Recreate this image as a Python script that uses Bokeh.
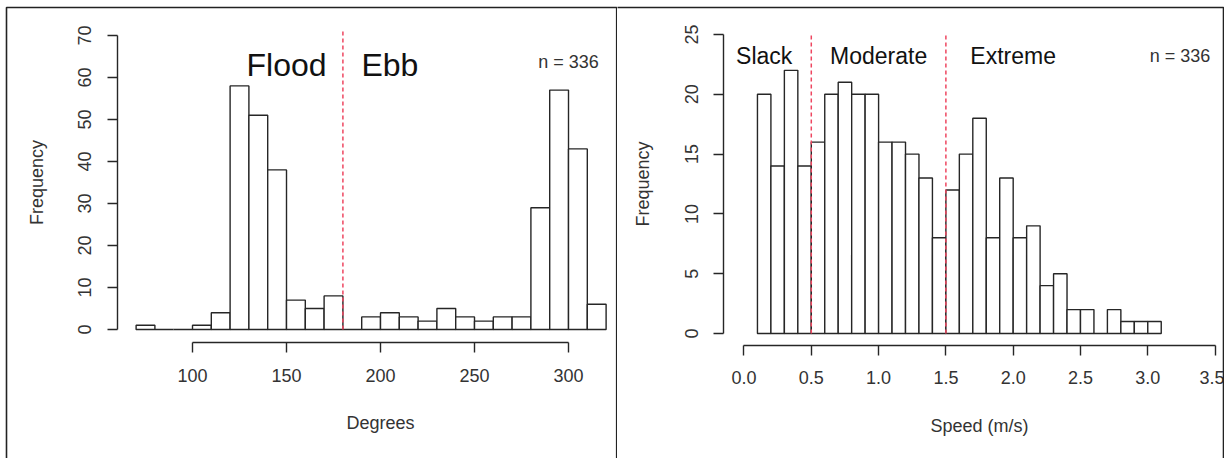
from bokeh.plotting import figure
from bokeh.layouts import row
from bokeh.models import FixedTicker, PrintfTickFormatter, BoxAnnotation, Range1d, ColumnDataSource
from bokeh.core.properties import value
from bokeh.embed import file_html
from bokeh.resources import INLINE

# ---------------- data ----------------
direction_edges = [70, 80, 90, 100, 110, 120, 130, 140, 150, 160, 170, 180, 190,
                   200, 210, 220, 230, 240, 250, 260, 270, 280, 290, 300, 310, 320]
direction_counts = [1, 0, 0, 1, 4, 58, 51, 38, 7, 5, 8, 0, 3,
                    4, 3, 2, 5, 3, 2, 3, 3, 29, 57, 43, 6]
direction_ticks = [100, 150, 200, 250, 300]
direction_freq_ticks = [0, 10, 20, 30, 40, 50, 60, 70]
direction_splits = [180]
direction_labels = ["Flood", "Ebb"]
direction_label_x = [150, 205]

speed_edges = [0.1, 0.2, 0.3, 0.4, 0.5, 0.6, 0.7, 0.8, 0.9, 1.0, 1.1, 1.2, 1.3, 1.4, 1.5, 1.6,
               1.7, 1.8, 1.9, 2.0, 2.1, 2.2, 2.3, 2.4, 2.5, 2.6, 2.7, 2.8, 2.9, 3.0, 3.1]
speed_counts = [20, 14, 22, 14, 16, 20, 21, 20, 20, 16, 16, 15, 13, 8, 12,
                15, 18, 8, 13, 8, 9, 4, 5, 2, 2, 0, 2, 1, 1, 1]
speed_ticks = [0.0, 0.5, 1.0, 1.5, 2.0, 2.5, 3.0, 3.5]
speed_freq_ticks = [0, 5, 10, 15, 20, 25]
speed_splits = [0.5, 1.5]
speed_labels = ["Slack", "Moderate", "Extreme"]
speed_label_x = [0.15, 1.0, 2.0]

n_label = "n = 336"

FONT = "Liberation Sans"
INK = "#262626"
RED = "#ee4660"


def make_panel(width, xr, yr, edges, counts, xticks, yticks, xbounds, ybounds,
               xaxis_at, yaxis_at, xlabel, xfmt=None):
    p = figure(width=width, height=458, x_range=Range1d(*xr), y_range=Range1d(*yr),
               output_backend="svg", toolbar_location=None,
               min_border_left=0, min_border_right=0, min_border_top=0, min_border_bottom=0)
    p.background_fill_color = "white"
    p.border_fill_color = "white"
    p.outline_line_color = None
    p.xgrid.grid_line_color = None
    p.ygrid.grid_line_color = None

    src = ColumnDataSource(dict(left=edges[:-1], right=edges[1:], top=counts,
                                bottom=[0] * len(counts)))
    p.quad(left="left", right="right", top="top", bottom="bottom", source=src,
           fill_color="white", line_color=INK, line_width=1.4)

    for ax in (p.xaxis[0], p.yaxis[0]):
        ax.axis_line_color = INK
        ax.axis_line_width = 1.4
        ax.major_tick_line_color = INK
        ax.major_tick_line_width = 1.4
        ax.major_tick_out = 10
        ax.major_tick_in = 0
        ax.minor_tick_line_color = None
        ax.major_label_text_font = FONT
        ax.major_label_text_font_size = "18px"
        ax.major_label_text_color = "#333333"
        ax.axis_label_text_font = FONT
        ax.axis_label_text_font_size = "18px"
        ax.axis_label_text_font_style = "normal"
        ax.axis_label_text_color = "#333333"

    xa = p.xaxis[0]
    xa.ticker = FixedTicker(ticks=xticks)
    xa.bounds = xbounds
    xa.fixed_location = xaxis_at
    xa.axis_label = xlabel
    xa.major_label_standoff = 16
    xa.axis_label_standoff = 28
    if xfmt:
        xa.formatter = PrintfTickFormatter(format=xfmt)

    ya = p.yaxis[0]
    ya.ticker = FixedTicker(ticks=yticks)
    ya.bounds = ybounds
    ya.fixed_location = yaxis_at
    ya.axis_label = "Frequency"
    ya.major_label_orientation = "vertical"
    ya.major_label_standoff = 16
    ya.axis_label_standoff = 29
    return p


def panel_border(left, right):
    return BoxAnnotation(left=left, right=right, top=451, bottom=-50,
                         left_units="screen", right_units="screen",
                         top_units="screen", bottom_units="screen",
                         fill_color=None, fill_alpha=0, line_color="#222222",
                         line_alpha=1.0, line_width=1.6)


# ---------------- left panel: direction ----------------
p1 = make_panel(617, (-2.13, 326.06), (-30.71, 78.33), direction_edges, direction_counts,
                direction_ticks, direction_freq_ticks, (100, 300), (0, 70),
                -3.1, 60, "Degrees")
p1.segment(x0=direction_splits, y0=[0] * len(direction_splits), x1=direction_splits,
           y1=[71] * len(direction_splits), line_color=RED, line_width=1.5, line_dash="4 3")
p1.text(x=direction_label_x, y=[62.9] * 2, text=direction_labels, text_align="center",
        text_baseline="alphabetic", text_font=value(FONT), text_font_size="32px",
        text_color="#111111")
p1.text(x=[300], y=[63.8], text=[n_label], text_align="center", text_baseline="alphabetic",
        text_font=value(FONT), text_font_size="18px", text_color="#333333")
p1.add_layout(panel_border(6, 616.2))

# ---------------- right panel: speed ----------------
p2 = make_panel(607, (-0.9398, 3.570), (-10.45, 27.84), speed_edges, speed_counts,
                speed_ticks, speed_freq_ticks, (0, 3.5), (0, 25),
                -1.0, -0.15, "Speed (m/s)", xfmt="%.1f")
p2.segment(x0=speed_splits, y0=[0] * len(speed_splits), x1=speed_splits,
           y1=[25.1] * len(speed_splits), line_color=RED, line_width=1.5, line_dash="4 3")
p2.text(x=speed_label_x, y=[23.24] * 3, text=speed_labels, text_align="center",
        text_baseline="alphabetic", text_font=value(FONT), text_font_size="23px",
        text_color="#111111")
p2.text(x=[3.24], y=[23.24], text=[n_label], text_align="center", text_baseline="alphabetic",
        text_font=value(FONT), text_font_size="18px", text_color="#333333")
p2.add_layout(panel_border(-10, 606))

layout = row(p1, p2)
open("out.html", "w").write(file_html(layout, INLINE))
